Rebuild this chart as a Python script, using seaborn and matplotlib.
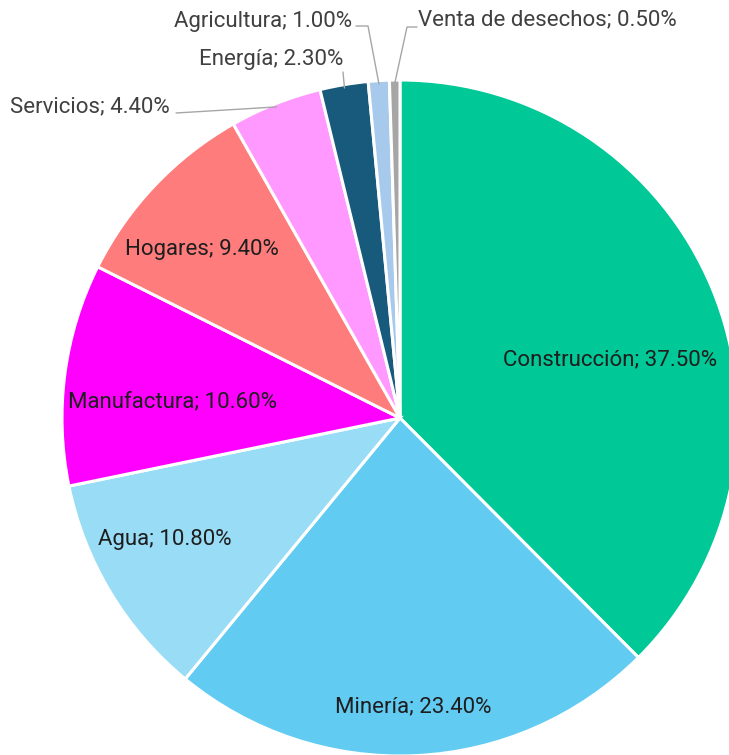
import numpy as np
import matplotlib
matplotlib.use("Agg")
import matplotlib.pyplot as plt
import seaborn as sns

sectores = ["Construcción", "Minería", "Agua", "Manufactura", "Hogares",
            "Servicios", "Energía", "Agricultura", "Venta de desechos"]
porcentajes = [37.5, 23.4, 10.8, 10.6, 9.4, 4.4, 2.3, 1.0, 0.5]
colores = ["#00C896", "#62CBF2", "#98DCF6", "#FF00FF", "#FF7C7C",
           "#FF99FF", "#185A7C", "#A6C9EC", "#A6A6A6"]

# pie centre / radius in pixels of the reference image
CX, CY, R = 400, 418, 338
W, H = 729, 755

# label centres (pixels) and leader line elbows (None = label inside)
label_pos = [(610, 360), (413, 707), (165, 540), (172, 402), (202, 249),
             (90, 107), (271, 60), (263, 22), (547, 20)]
leaders = [None, None, None, None, None,
           [(176, 113)], [(343, 72)], [(356, 26), (368, 26)],
           [(417, 27), (407, 27)]]


def px(x, y):
    return (x - CX) / R, (CY - y) / R


sns.set_theme(style="white")
plt.rcParams["font.family"] = ["Roboto", "DejaVu Sans"]

fig = plt.figure(figsize=(W / 100, H / 100), dpi=100)
ax = fig.add_axes([0, 0, 1, 1])
wedges, _ = ax.pie(porcentajes, colors=colores, startangle=90, counterclock=False,
                   radius=1, wedgeprops={"edgecolor": "white", "linewidth": 2.2})

for w, nombre, p, pos, lead in zip(wedges, sectores, porcentajes, label_pos, leaders):
    txt = f"{nombre}; {p:.2f}%"
    x, y = px(*pos)
    if lead is None:
        ax.text(x, y, txt, ha="center", va="center", fontsize=16, color="#1E1E1E")
    else:
        ax.text(x, y, txt, ha="center", va="center", fontsize=16, color="#404040")
        ang = np.deg2rad((w.theta1 + w.theta2) / 2)
        pts = [px(*q) for q in lead] + [(np.cos(ang) * 0.99, np.sin(ang) * 0.99)]
        xs, ys = zip(*pts)
        ax.plot(xs, ys, color="#A6A6A6", lw=1)

ax.set_xlim(-CX / R, (W - CX) / R)
ax.set_ylim(-(H - CY) / R, CY / R)
ax.set_aspect("equal")
ax.axis("off")
fig.savefig("out.png", dpi=100, facecolor="white")
